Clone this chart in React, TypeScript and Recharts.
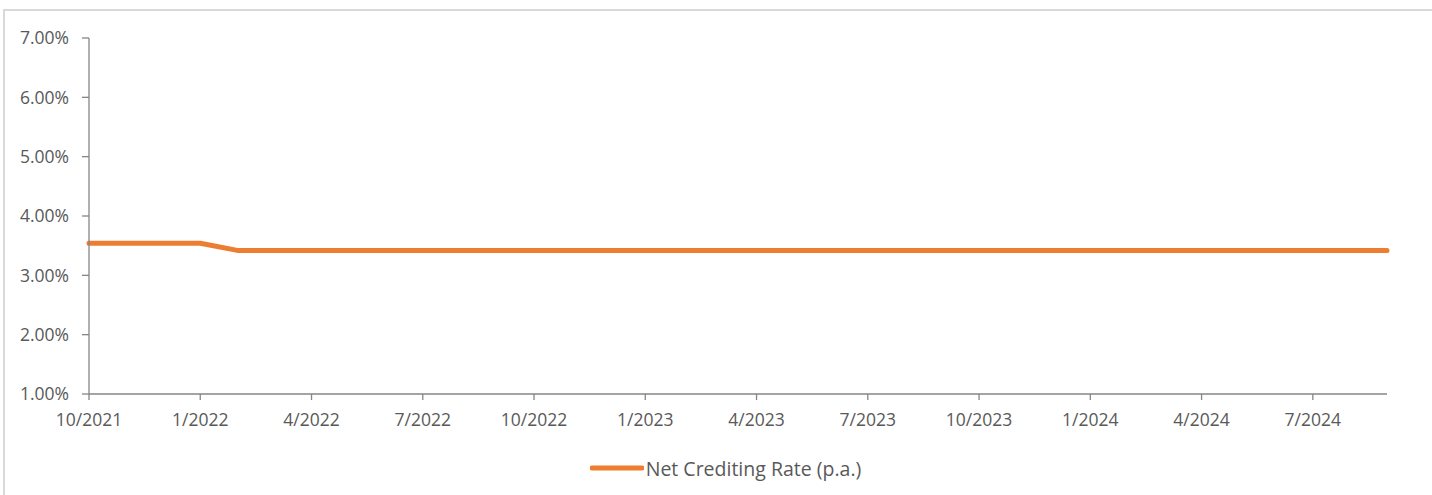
import { LineChart, Line, XAxis, YAxis, Legend } from 'recharts';

const months = [
  '10/2021', '11/2021', '12/2021',
  '1/2022', '2/2022', '3/2022', '4/2022', '5/2022', '6/2022',
  '7/2022', '8/2022', '9/2022', '10/2022', '11/2022', '12/2022',
  '1/2023', '2/2023', '3/2023', '4/2023', '5/2023', '6/2023',
  '7/2023', '8/2023', '9/2023', '10/2023', '11/2023', '12/2023',
  '1/2024', '2/2024', '3/2024', '4/2024', '5/2024', '6/2024',
  '7/2024', '8/2024', '9/2024',
];

const netCreditingRate = [
  3.54, 3.54, 3.54,
  3.54, 3.42, 3.42, 3.42, 3.42, 3.42,
  3.42, 3.42, 3.42, 3.42, 3.42, 3.42,
  3.42, 3.42, 3.42, 3.42, 3.42, 3.42,
  3.42, 3.42, 3.42, 3.42, 3.42, 3.42,
  3.42, 3.42, 3.42, 3.42, 3.42, 3.42,
  3.42, 3.42, 3.42,
];

const yTicks = [1, 2, 3, 4, 5, 6, 7];

const ORANGE = '#ED7D31';
const AXIS = '#868686';
const TEXT = '#595959';
const FONT = '"Open Sans", sans-serif';

const data = months.map((m, i) => ({ month: m, rate: netCreditingRate[i] }));

function LegendContent() {
  return (
    <div
      style={{
        height: 30,
        display: 'flex',
        alignItems: 'center',
        justifyContent: 'center',
        fontFamily: FONT,
        fontSize: 19.5,
        color: TEXT,
        paddingLeft: 64,
      }}
    >
      <svg width={54} height={10} style={{ marginRight: 2 }}>
        <line x1={2} y1={5} x2={52} y2={5} stroke={ORANGE} strokeWidth={5} strokeLinecap='round' />
      </svg>
      <span>Net Crediting Rate (p.a.)</span>
    </div>
  );
}

export default function App() {
  return (
    <div style={{ position: 'absolute', left: 0, top: 0, width: 1432, height: 495, background: '#fff' }}>
      <div
        style={{
          position: 'absolute',
          left: 3,
          top: 9,
          width: 1429,
          height: 486,
          borderTop: '2px solid #d9d9d9',
          borderLeft: '2px solid #d9d9d9',
          boxSizing: 'border-box',
        }}
      />
      <LineChart
        width={1432}
        height={495}
        data={data}
        margin={{ top: 38, right: 45, bottom: 31, left: 0 }}
        style={{ position: 'absolute', left: 0, top: 0 }}
      >
        <XAxis
          dataKey='month'
          interval={2}
          height={40}
          tickSize={6}
          tickMargin={14}
          axisLine={{ stroke: AXIS, strokeWidth: 1.3 }}
          tickLine={{ stroke: AXIS, strokeWidth: 1.3 }}
          tick={{ fill: TEXT, fontSize: 17.5, fontFamily: FONT }}
        />
        <YAxis
          type='number'
          domain={[1, 7]}
          ticks={yTicks}
          width={89}
          tickSize={7}
          tickMargin={13}
          tickFormatter={(v: number) => `${v.toFixed(2)}%`}
          axisLine={{ stroke: AXIS, strokeWidth: 1.3 }}
          tickLine={{ stroke: AXIS, strokeWidth: 1.3 }}
          tick={{ fill: TEXT, fontSize: 17.5, fontFamily: FONT }}
        />
        <Legend
          verticalAlign='bottom'
          content={<LegendContent />}
          wrapperStyle={{ top: 453, bottom: 'auto' }}
        />
        <Line
          type='linear'
          dataKey='rate'
          name='Net Crediting Rate (p.a.)'
          stroke={ORANGE}
          strokeWidth={5}
          strokeLinecap='round'
          strokeLinejoin='round'
          dot={false}
          isAnimationActive={false}
        />
      </LineChart>
    </div>
  );
}
